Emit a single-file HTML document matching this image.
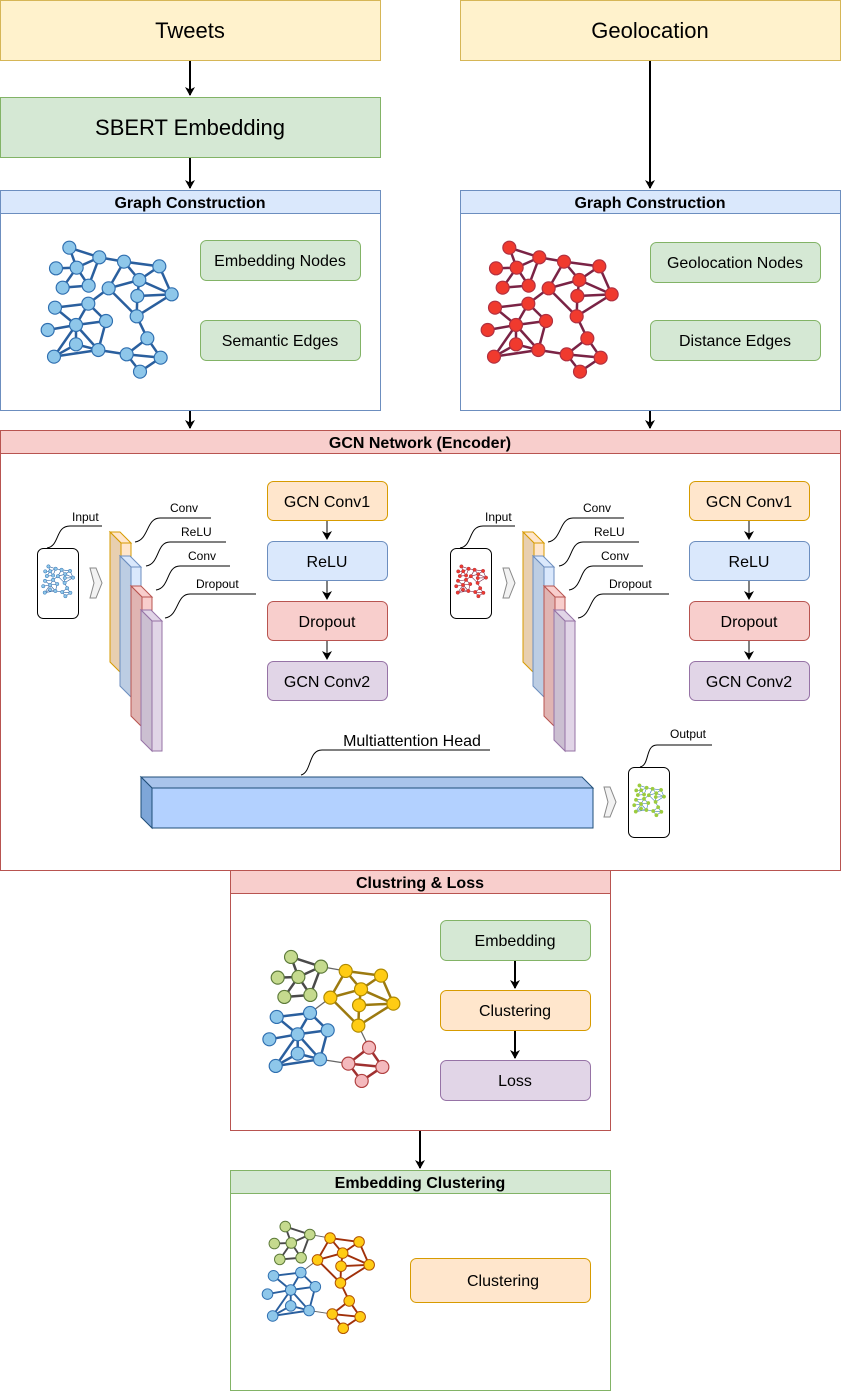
<!DOCTYPE html>
<html><head><meta charset="utf-8"><style>
html,body{margin:0;padding:0;background:#fff;}
svg{display:block;font-family:"Liberation Sans",Arial,sans-serif;}
</style></head><body>
<svg id="s" width="841" height="1391" viewBox="0 0 841 1391" xmlns="http://www.w3.org/2000/svg">
<defs>
<marker id="a" markerWidth="10" markerHeight="10" refX="8" refY="5" orient="auto" markerUnits="userSpaceOnUse"><path d="M0,0 L9,5 L0,10 L2.5,5 z" fill="#000"/></marker>
</defs>
<rect width="841" height="1391" fill="#fff"/>
<rect x="0.5" y="0.5" width="380" height="60" fill="#fff2cc" stroke="#d6b656"/>
<text x="190" y="38" font-size="22" text-anchor="middle">Tweets</text>
<rect x="460.5" y="0.5" width="380" height="60" fill="#fff2cc" stroke="#d6b656"/>
<text x="650" y="38" font-size="22" text-anchor="middle">Geolocation</text>
<rect x="0.5" y="97.5" width="380" height="60" fill="#d5e8d4" stroke="#82b366"/>
<text x="190" y="135" font-size="22" text-anchor="middle">SBERT Embedding</text>
<g stroke="#000" stroke-width="2" fill="none">
<line x1="190" y1="61" x2="190" y2="95" marker-end="url(#a)"/>
<line x1="190" y1="158" x2="190" y2="188" marker-end="url(#a)"/>
<line x1="650" y1="61" x2="650" y2="188" marker-end="url(#a)"/>
<line x1="190" y1="411" x2="190" y2="428" marker-end="url(#a)"/>
<line x1="650" y1="411" x2="650" y2="428" marker-end="url(#a)"/>
<line x1="420" y1="1131" x2="420" y2="1168" marker-end="url(#a)"/>
</g>
<rect x="0.5" y="190.5" width="380" height="220" fill="#fff" stroke="#6c8ebf"/>
<rect x="0.5" y="190.5" width="380" height="23" fill="#dae8fc" stroke="#6c8ebf"/>
<text x="190" y="208" font-size="16" font-weight="bold" text-anchor="middle">Graph Construction</text>
<rect x="200.5" y="240.5" width="160" height="40" rx="6" fill="#d5e8d4" stroke="#82b366"/>
<text x="280" y="266" font-size="16" text-anchor="middle">Embedding Nodes</text>
<rect x="200.5" y="320.5" width="160" height="40" rx="6" fill="#d5e8d4" stroke="#82b366"/>
<text x="280" y="346" font-size="16" text-anchor="middle">Semantic Edges</text>
<rect x="460.5" y="190.5" width="380" height="220" fill="#fff" stroke="#6c8ebf"/>
<rect x="460.5" y="190.5" width="380" height="23" fill="#dae8fc" stroke="#6c8ebf"/>
<text x="650" y="208" font-size="16" font-weight="bold" text-anchor="middle">Graph Construction</text>
<rect x="650.5" y="242.5" width="170" height="40" rx="6" fill="#d5e8d4" stroke="#82b366"/>
<text x="735" y="268" font-size="16" text-anchor="middle">Geolocation Nodes</text>
<rect x="650.5" y="320.5" width="170" height="40" rx="6" fill="#d5e8d4" stroke="#82b366"/>
<text x="735" y="346" font-size="16" text-anchor="middle">Distance Edges</text>
<rect x="0.5" y="430.5" width="840" height="440" fill="#fff" stroke="#b85450"/>
<rect x="0.5" y="430.5" width="840" height="23" fill="#f8cecc" stroke="#b85450"/>
<text x="420" y="448" font-size="16" font-weight="bold" text-anchor="middle">GCN Network (Encoder)</text>
<g id="stackL"></g>
<g font-size="16" text-anchor="middle">
<rect x="267.5" y="481.5" width="120" height="39" rx="6" fill="#ffe6cc" stroke="#d79b00"/><text x="327" y="507">GCN Conv1</text>
<rect x="267.5" y="541.5" width="120" height="39" rx="6" fill="#dae8fc" stroke="#6c8ebf"/><text x="327" y="567">ReLU</text>
<rect x="267.5" y="601.5" width="120" height="39" rx="6" fill="#f8cecc" stroke="#b85450"/><text x="327" y="627">Dropout</text>
<rect x="267.5" y="661.5" width="120" height="39" rx="6" fill="#e1d5e7" stroke="#9673a6"/><text x="327" y="687">GCN Conv2</text>
<rect x="689.5" y="481.5" width="120" height="39" rx="6" fill="#ffe6cc" stroke="#d79b00"/><text x="749" y="507">GCN Conv1</text>
<rect x="689.5" y="541.5" width="120" height="39" rx="6" fill="#dae8fc" stroke="#6c8ebf"/><text x="749" y="567">ReLU</text>
<rect x="689.5" y="601.5" width="120" height="39" rx="6" fill="#f8cecc" stroke="#b85450"/><text x="749" y="627">Dropout</text>
<rect x="689.5" y="661.5" width="120" height="39" rx="6" fill="#e1d5e7" stroke="#9673a6"/><text x="749" y="687">GCN Conv2</text>
</g>
<g stroke="#000" stroke-width="1" fill="none">
<line x1="327" y1="521" x2="327" y2="539" marker-end="url(#a)"/>
<line x1="327" y1="581" x2="327" y2="599" marker-end="url(#a)"/>
<line x1="327" y1="641" x2="327" y2="659" marker-end="url(#a)"/>
<line x1="749" y1="521" x2="749" y2="539" marker-end="url(#a)"/>
<line x1="749" y1="581" x2="749" y2="599" marker-end="url(#a)"/>
<line x1="749" y1="641" x2="749" y2="659" marker-end="url(#a)"/>
</g>
<polygon points="141,777 582,777 593,788 152,788" fill="#a9c4eb" stroke="#1f4e79" stroke-width="1"/>
<polygon points="141,777 152,788 152,828 141,817" fill="#7ea6d8" stroke="#1f4e79" stroke-width="1"/>
<rect x="152" y="788" width="441" height="40" fill="#b3d1ff" stroke="#1f4e79" stroke-width="1"/>
<path d="M301,775 C312,772 308,750 322,750 H490" fill="none" stroke="#000"/>
<text x="412" y="746" font-size="16" text-anchor="middle">Multiattention Head</text>
<polygon points="604,787 610,787 616,802 610,817 604,817 608,802" fill="#f2f2f2" stroke="#888"/>
<rect x="628.5" y="767.5" width="41" height="70" rx="6" fill="#fff" stroke="#000"/>
<path d="M640,767 C650,765 645,745 657,745 H712" fill="none" stroke="#000"/>
<text x="688" y="738" font-size="12" text-anchor="middle">Output</text>
<rect x="230.5" y="870.5" width="380" height="260" fill="#fff" stroke="#b85450"/>
<rect x="230.5" y="870.5" width="380" height="23" fill="#f8cecc" stroke="#b85450"/>
<text x="420" y="888" font-size="16" font-weight="bold" text-anchor="middle">Clustring &amp; Loss</text>
<rect x="440.5" y="920.5" width="150" height="40" rx="6" fill="#d5e8d4" stroke="#82b366"/>
<text x="515" y="946" font-size="16" text-anchor="middle">Embedding</text>
<rect x="440.5" y="990.5" width="150" height="40" rx="6" fill="#ffe6cc" stroke="#d79b00"/>
<text x="515" y="1016" font-size="16" text-anchor="middle">Clustering</text>
<rect x="440.5" y="1060.5" width="150" height="40" rx="6" fill="#e1d5e7" stroke="#9673a6"/>
<text x="515" y="1086" font-size="16" text-anchor="middle">Loss</text>
<g stroke="#000" stroke-width="2" fill="none">
<line x1="515" y1="961" x2="515" y2="988" marker-end="url(#a)"/>
<line x1="515" y1="1031" x2="515" y2="1058" marker-end="url(#a)"/>
</g>
<rect x="230.5" y="1170.5" width="380" height="220" fill="#fff" stroke="#82b366"/>
<rect x="230.5" y="1170.5" width="380" height="23" fill="#d5e8d4" stroke="#82b366"/>
<text x="420" y="1188" font-size="16" font-weight="bold" text-anchor="middle">Embedding Clustering</text>
<rect x="410.5" y="1258.5" width="180" height="44" rx="6" fill="#ffe6cc" stroke="#d79b00"/>
<text x="503" y="1286" font-size="16" text-anchor="middle">Clustering</text>
<g id="graphs"></g>
</svg>
<script>
var NS="http://www.w3.org/2000/svg";
function el(p,t,a){var e=document.createElementNS(NS,t);for(var k in a)e.setAttribute(k,a[k]);p.appendChild(e);return e;}
var N=[[118,68],[208,97],[282,110],[388,124],[78,130],[140,128],[328,165],[98,188],[176,182],[236,190],[322,213],[425,208],[75,248],[175,236],[138,300],[228,288],[320,274],[53,315],[352,340],[138,358],[205,375],[72,395],[290,388],[392,398],[330,440]];
var E="1-2 1-6 5-6 6-2 6-8 6-9 2-9 8-9 2-3 3-4 3-7 3-10 4-7 4-12 7-11 7-12 11-12 10-7 10-14 10-17 11-17 17-12 13-14 13-15 14-15 14-16 15-16 15-18 15-20 15-21 15-22 20-22 20-21 21-22 16-21 21-23 17-19 19-23 19-24 23-24 23-25 24-25".split(" ").map(function(s){return s.split("-").map(function(v){return +v-1;});});
var grp=[0,0,1,1,0,0,1,0,0,1,1,1,2,2,2,2,1,2,3,2,2,2,3,3,3];
var G=document.getElementById("graphs");
function graph(ox,oy,sc,pal,r,ew){
  var g=el(G,"g",{});
  E.forEach(function(e){var a=N[e[0]],b=N[e[1]];var c=pal[grp[e[0]]],d=pal[grp[e[1]]];var same=(c===d);
    el(g,"line",{x1:ox+a[0]*sc,y1:oy+a[1]*sc,x2:ox+b[0]*sc,y2:oy+b[1]*sc,stroke:same?c.e:"#666","stroke-width":same?ew:ew*0.5});});
  N.forEach(function(n,i){var c=pal[grp[i]];el(g,"circle",{cx:ox+n[0]*sc,cy:oy+n[1]*sc,r:r,fill:c.f,stroke:c.s,"stroke-width":Math.max(0.5,r*0.18)});});
}
var B={f:"#8ec7ea",s:"#2f6fb0",e:"#2a5f9e"},R={f:"#f03a2e",s:"#b03040",e:"#7a2345"};
var Gr={f:"#c5da8e",s:"#5d7a3a",e:"#4a4a4a"},Y={f:"#ffcc14",s:"#b08a00",e:"#9c7a10"},P={f:"#f4b9bd",s:"#b04040",e:"#a03030"};
var Y2={f:"#ffcc14",s:"#b05000",e:"#a0300a"};
var sc=1/3;
graph(30,225,sc,[B,B,B,B],6.5,2.5);
graph(470,225,sc,[R,R,R,R],6.5,2.5);
graph(251.7,934.3,sc,[Gr,Y,B,P],6.5,2.5);
graph(253,1208,0.82/3,[Gr,Y2,B,Y2],5.3,1.9);
var GG={f:"#9ccc3d",s:"#9ccc3d",e:"#3d7ab8"};
graph(39,561,0.08,[B,B,B,B],1.7,0.6);
graph(452,561,0.08,[R,R,R,R],1.7,0.6);
graph(630,780,0.08,[GG,GG,GG,GG],1.7,0.6);
var S=document.getElementById("stackL");
function stack(dx){
  var g=el(S,"g",{});
  el(g,"rect",{x:37.5+dx,y:548.5,width:41,height:70,rx:6,fill:"#fff",stroke:"#000"});
  el(g,"polygon",{points:[90+dx,568,96+dx,568,102+dx,583,96+dx,598,90+dx,598,94+dx,583].join(" "),fill:"#f2f2f2",stroke:"#888"});
  el(g,"path",{d:"M"+(47+dx)+",548 C"+(60+dx)+",546 "+(55+dx)+",526 "+(70+dx)+",526 H"+(102+dx),fill:"none",stroke:"#000"});
  var t=el(g,"text",{x:72+dx,y:521,"font-size":12});t.textContent="Input";
  var L=[[110,532,"#ffe6cc","#e8cfb0","#d79b00"],[120,556,"#dae8fc","#bccde3","#6c8ebf"],[131,586,"#f8cecc","#e0b4b2","#b85450"],[141,610,"#e1d5e7","#cbbfd1","#9673a6"]];
  L.forEach(function(l){var x=l[0]+dx,y=l[1],h=130;
    el(g,"polygon",{points:[x,y,x+10,y,x+21,y+11,x+11,y+11].join(" "),fill:l[2],stroke:l[4]});
    el(g,"polygon",{points:[x,y,x+11,y+11,x+11,y+11+h,x,y+h].join(" "),fill:l[3],stroke:l[4]});
    el(g,"rect",{x:x+11,y:y+11,width:10,height:h,fill:l[2],stroke:l[4]});
  });
  var C=[[135,542,160,518,211,"Conv",170],[146,566,170,542,226,"ReLU",181],[156,590,180,566,230,"Conv",188],[165,618,190,594,256,"Dropout",196]];
  C.forEach(function(c){el(g,"path",{d:"M"+(c[0]+dx)+","+c[1]+" C"+(c[0]+14+dx)+","+(c[1]-2)+" "+(c[2]-14+dx)+","+c[3]+" "+(c[2]+dx)+","+c[3]+" H"+(c[4]+dx),fill:"none",stroke:"#000"});
    var t=el(g,"text",{x:c[6]+dx,y:c[3]-6,"font-size":12});t.textContent=c[5];});
}
stack(0);stack(413);
</script>
</body></html>
